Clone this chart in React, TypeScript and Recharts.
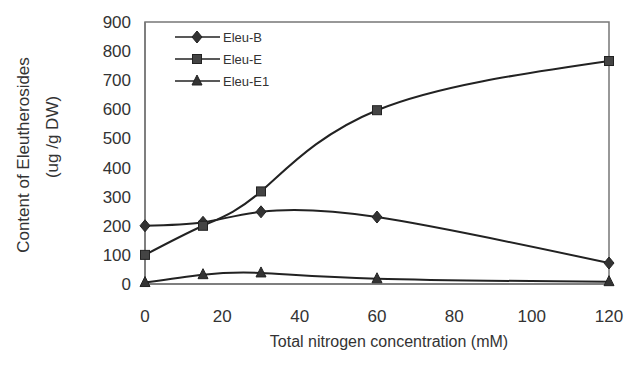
import { LineChart, Line, XAxis, YAxis, ReferenceArea } from "recharts";

const nitrogen = [0, 15, 30, 60, 120];
const eleuB = [200, 212, 248, 230, 72];
const eleuE = [100, 200, 318, 597, 766];
const eleuE1 = [5, 32, 38, 18, 8];

const xTicks = [0, 20, 40, 60, 80, 100, 120];
const yTicks = [0, 100, 200, 300, 400, 500, 600, 700, 800, 900];

const seriesNames = ["Eleu-B", "Eleu-E", "Eleu-E1"];

const data = nitrogen.map((n, i) => ({
  n,
  b: eleuB[i],
  e: eleuE[i],
  e1: eleuE1[i],
}));

const INK = "#222";
const AXIS = "#777";
const FONT = "'Liberation Sans', Arial, sans-serif";

function Marker({ shape, cx, cy }: { shape: string; cx: number; cy: number }) {
  if (shape === "diamond") {
    return (
      <path
        d={`M${cx},${cy - 6} L${cx + 5},${cy} L${cx},${cy + 6} L${cx - 5},${cy} Z`}
        fill="#333"
        stroke={INK}
        strokeWidth={1}
      />
    );
  }
  if (shape === "square") {
    return <rect x={cx - 4.5} y={cy - 4.5} width={9} height={9} fill="#444" stroke={INK} strokeWidth={1} />;
  }
  return (
    <path
      d={`M${cx},${cy - 6} L${cx + 5},${cy + 4} L${cx - 5},${cy + 4} Z`}
      fill="#333"
      stroke={INK}
      strokeWidth={1}
    />
  );
}

const dotFor = (shape: string) => (props: any) => {
  const { cx, cy, index } = props;
  if (cx == null || cy == null) return <g key={index} />;
  return <Marker key={index} shape={shape} cx={cx} cy={cy} />;
};

const shapes = ["diamond", "square", "triangle"];

function LegendBox() {
  return (
    <svg width={120} height={70} style={{ position: "absolute", left: 175, top: 28 }}>
      {seriesNames.map((name, i) => {
        const y = 9 + i * 22;
        return (
          <g key={name}>
            <line x1={0} x2={45} y1={y} y2={y} stroke={INK} strokeWidth={1.5} />
            <Marker shape={shapes[i]} cx={22} cy={y} />
            <text x={48} y={y + 4.5} fontSize={13} fill="#333" fontFamily={FONT}>
              {name}
            </text>
          </g>
        );
      })}
    </svg>
  );
}

function XTick(props: any) {
  const { x, y, payload } = props;
  return (
    <text x={x} y={y + 36} textAnchor="middle" fontSize={17} fill="#333" fontFamily={FONT}>
      {payload.value}
    </text>
  );
}

function YTick(props: any) {
  const { x, y, payload } = props;
  return (
    <text x={x - 12} y={y + 6} textAnchor="end" fontSize={17} fill="#333" fontFamily={FONT}>
      {payload.value}
    </text>
  );
}

function YLabel() {
  return (
    <g fontFamily={FONT} fontSize={17} fill="#333">
      <text x={23} y={155} textAnchor="middle" transform="rotate(-90 23 155)" dy="0.35em">
        Content of Eleutherosides
      </text>
      <text x={52} y={137} textAnchor="middle" transform="rotate(-90 52 137)" dy="0.35em">
        (ug /g DW)
      </text>
    </g>
  );
}

function XLabel() {
  return (
    <text x={389} y={347} textAnchor="middle" fontSize={16} fill="#333" fontFamily={FONT}>
      Total nitrogen concentration (mM)
    </text>
  );
}

export default function App() {
  return (
    <div style={{ position: "absolute", left: 0, top: 0, width: 638, height: 365, background: "#fff" }}>
      <LineChart width={638} height={365} data={data} margin={{ top: 22, right: 29, bottom: 51, left: 65 }}>
        <XAxis
          dataKey="n"
          type="number"
          domain={[0, 120]}
          ticks={xTicks}
          interval={0}
          tickLine={false}
          tickSize={0}
          tick={<XTick />}
          stroke={AXIS}
          strokeWidth={1.5}
          height={30}
          label={<XLabel />}
        />
        <YAxis
          type="number"
          domain={[0, 900]}
          ticks={yTicks}
          interval={0}
          tickLine={false}
          tickSize={0}
          tick={<YTick />}
          stroke={AXIS}
          strokeWidth={1.5}
          width={80}
          label={<YLabel />}
        />
        <ReferenceArea x1={0} x2={120} y1={0} y2={900} fill="none" stroke={AXIS} strokeWidth={1.5} />
        <Line
          type="natural"
          dataKey="b"
          name={seriesNames[0]}
          stroke={INK}
          strokeWidth={2}
          dot={dotFor("diamond")}
          isAnimationActive={false}
        />
        <Line
          type="natural"
          dataKey="e"
          name={seriesNames[1]}
          stroke={INK}
          strokeWidth={2}
          dot={dotFor("square")}
          isAnimationActive={false}
        />
        <Line
          type="natural"
          dataKey="e1"
          name={seriesNames[2]}
          stroke={INK}
          strokeWidth={2}
          dot={dotFor("triangle")}
          isAnimationActive={false}
        />
      </LineChart>
      <LegendBox />
    </div>
  );
}
